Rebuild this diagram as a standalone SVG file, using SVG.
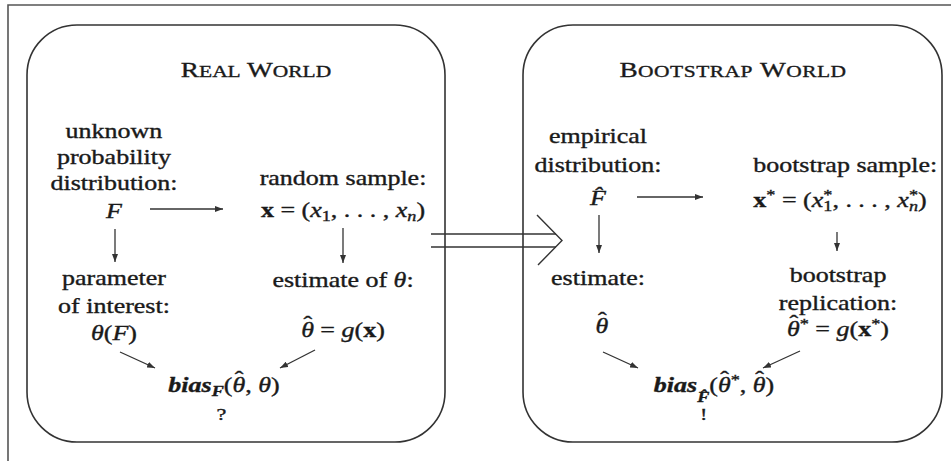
<svg xmlns="http://www.w3.org/2000/svg" width="951" height="461" viewBox="0 0 951 461">
<style>
.t{font-family:"Liberation Serif","Times New Roman",serif;font-size:20px;fill:#1a1a1a;stroke:#1a1a1a;stroke-width:0.35;text-anchor:middle}
.ttl{font-size:21px}
.sc{font-size:16.5px}
.i{font-style:italic}
.bf{font-weight:bold}
.s{font-size:14px}
.box{fill:none;stroke:#333;stroke-width:1.6}
.frame{fill:none;stroke:#555;stroke-width:1.6}
.arr{stroke:#333;stroke-width:1.3;fill:none;marker-end:url(#ah)}
.dbl{stroke:#333;stroke-width:1.4;fill:none}
</style>
<defs>
<marker id="ah" viewBox="0 0 8 6" refX="8" refY="3" markerWidth="8" markerHeight="6" markerUnits="userSpaceOnUse" orient="auto">
<path d="M0,0 L8,3 L0,6 z" fill="#333"/>
</marker>
</defs>
<rect width="951" height="461" fill="#fff"/>
<path class="frame" d="M8,461 L8,5 L951,5"/>
<g id="real-world">
<rect class="box" x="27" y="25" width="418" height="417" rx="50" ry="50"/>
<g transform="translate(256 0) scale(1.3 1)"><text class="t ttl" x="0" y="77">R<tspan class="sc">EAL</tspan> W<tspan class="sc">ORLD</tspan></text></g>
</g>
<g id="bootstrap-world">
<rect class="box" x="523" y="25" width="419" height="417" rx="50" ry="50"/>
<g transform="translate(733 0) scale(1.3 1)"><text class="t ttl" x="0" y="77" letter-spacing="0.4">B<tspan class="sc">OOTSTRAP</tspan> W<tspan class="sc">ORLD</tspan></text></g>
</g>
<g id="unknown-distribution" transform="translate(114 0) scale(1.3 1)">
<text class="t" x="0" y="138">unknown</text>
<text class="t" x="0" y="164">probability</text>
<text class="t" x="0" y="190">distribution:</text>
<text class="t i" x="0" y="218">F</text>
</g>
<g id="random-sample" transform="translate(343 0) scale(1.3 1)">
<text class="t" x="0" y="185">random sample:</text>
<text class="t" x="0" y="217"><tspan class="bf">x</tspan> = (<tspan class="i">x</tspan><tspan class="s" dy="4">1</tspan><tspan dy="-4">, . . . , </tspan><tspan class="i">x</tspan><tspan class="s i" dy="4">n</tspan><tspan dy="-4">)</tspan></text>
</g>
<g id="parameter" transform="translate(114 0) scale(1.3 1)">
<text class="t" x="0" y="285">parameter</text>
<text class="t" x="0" y="313">of interest:</text>
<text class="t" x="0" y="340"><tspan class="i">θ</tspan>(<tspan class="i">F</tspan>)</text>
</g>
<g id="estimate" transform="translate(343 0) scale(1.3 1)">
<text class="t" x="0" y="287">estimate of <tspan class="i">θ</tspan>:</text>
<text class="t" x="0" y="337"><tspan class="i">θ</tspan><tspan dx="-8" dy="-6">ˆ</tspan><tspan dx="1.3" dy="6"> = </tspan><tspan class="i">g</tspan>(<tspan class="bf">x</tspan>)</text>
</g>
<g id="bias-real" transform="translate(224 0) scale(1.3 1)">
<text class="t" x="0" y="392"><tspan class="i bf">bias</tspan><tspan class="s i bf" dy="4">F</tspan><tspan dy="-4">(</tspan><tspan class="i">θ</tspan><tspan dx="-8" dy="-6">ˆ</tspan><tspan dx="1.3" dy="6">, </tspan><tspan class="i">θ</tspan>)</text>
<text class="t" x="-2" y="420" style="font-size:17px">?</text>
</g>
<g id="empirical-distribution" transform="translate(598 0) scale(1.3 1)">
<text class="t" x="0" y="143">empirical</text>
<text class="t" x="0" y="172">distribution:</text>
<text class="t i" x="0" y="205">F̂</text>
</g>
<g id="bootstrap-sample" transform="translate(840 0) scale(1.3 1)">
<text class="t" x="4" y="172">bootstrap sample:</text>
<text class="t" x="0" y="207"><tspan class="bf">x</tspan><tspan class="s" dy="-7">*</tspan><tspan dy="7"> = (</tspan><tspan class="i">x</tspan><tspan class="s" dy="-7">*</tspan><tspan class="s" dx="-7" dy="11">1</tspan><tspan dy="-4">, . . . , </tspan><tspan class="i">x</tspan><tspan class="s" dy="-7">*</tspan><tspan class="s i" dx="-7" dy="11">n</tspan><tspan dy="-4">)</tspan></text>
</g>
<g id="estimate-boot" transform="translate(598 0) scale(1.3 1)">
<text class="t" x="0" y="285">estimate:</text>
<text class="t" x="3" y="333"><tspan class="i">θ</tspan><tspan dx="-8" dy="-6">ˆ</tspan></text>
</g>
<g id="bootstrap-replication" transform="translate(838 0) scale(1.3 1)">
<text class="t" x="0" y="282">bootstrap</text>
<text class="t" x="0" y="310">replication:</text>
<text class="t" x="0" y="336"><tspan class="i">θ</tspan><tspan dx="-8" dy="-6">ˆ</tspan><tspan class="s" dx="1.3" dy="-1">*</tspan><tspan dy="7"> = </tspan><tspan class="i">g</tspan>(<tspan class="bf">x</tspan><tspan class="s" dy="-7">*</tspan><tspan dy="7">)</tspan></text>
</g>
<g id="bias-boot" transform="translate(714 0) scale(1.3 1)">
<text class="t" x="0" y="392"><tspan class="i bf">bias</tspan><tspan class="s i bf" dy="10">F̂</tspan><tspan dy="-10">(</tspan><tspan class="i">θ</tspan><tspan dx="-8" dy="-6">ˆ</tspan><tspan class="s" dx="1.3" dy="-1">*</tspan><tspan dy="7">, </tspan><tspan class="i">θ</tspan><tspan dx="-8" dy="-6">ˆ</tspan><tspan dx="1.3" dy="6">)</tspan></text>
<text class="t" x="-8" y="420" style="font-size:17px">!</text>
</g>
<g id="connectors">
<line class="arr" x1="150" y1="209" x2="223" y2="209"/>
<line class="arr" x1="115" y1="229" x2="115" y2="262"/>
<line class="arr" x1="343" y1="228" x2="343" y2="263"/>
<line class="arr" x1="120" y1="352" x2="155" y2="368"/>
<line class="arr" x1="315" y1="350" x2="280" y2="368"/>
<line class="arr" x1="637" y1="197" x2="703" y2="197"/>
<line class="arr" x1="599" y1="215" x2="599" y2="253"/>
<line class="arr" x1="837" y1="232" x2="837" y2="251"/>
<line class="arr" x1="603" y1="352" x2="638" y2="368"/>
<line class="arr" x1="800" y1="351" x2="763" y2="368"/>
<g id="world-map-arrow">
<line class="dbl" x1="431" y1="234" x2="556" y2="234"/>
<line class="dbl" x1="431" y1="247" x2="556" y2="247"/>
<path class="dbl" d="M537,215 L562,240.5 L538,265"/>
</g>
</g>
</svg>
